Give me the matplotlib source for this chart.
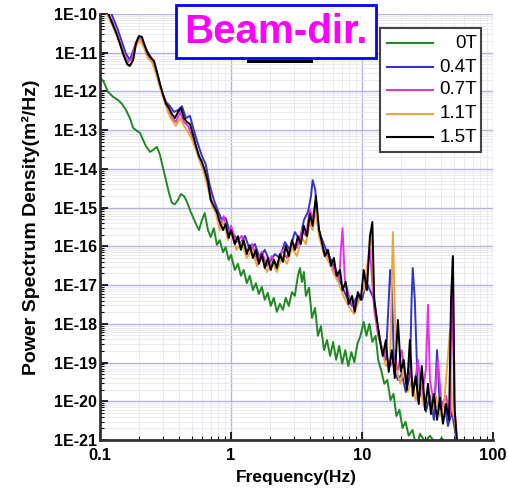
import numpy as np
import matplotlib
matplotlib.use("Agg")
import matplotlib.pyplot as plt
from matplotlib.ticker import LogLocator, FuncFormatter, NullFormatter
from matplotlib.patches import Rectangle
from matplotlib.lines import Line2D

# - - - - data: (frequency Hz, log10 PSD) - - -
spec_0T = [(0.1, -11.63), (0.107, -11.76), (0.115, -12.01), (0.126, -12.14), (0.137, -12.22),
           (0.147, -12.32), (0.158, -12.48), (0.169, -12.69), (0.179, -12.94), (0.192, -13.02),
           (0.202, -13.07), (0.213, -13.25), (0.224, -13.41), (0.241, -13.56), (0.254, -13.51),
           (0.272, -13.43), (0.287, -13.64), (0.303, -13.98), (0.319, -14.29), (0.336, -14.62),
           (0.354, -14.88), (0.373, -14.91), (0.394, -14.80), (0.415, -14.65), (0.438, -14.70),
           (0.461, -14.85), (0.486, -15.06), (0.512, -15.24), (0.54, -15.42), (0.57, -15.58),
           (0.60, -15.32), (0.63, -15.14), (0.667, -15.58), (0.70, -15.76), (0.74, -15.53),
           (0.78, -15.96), (0.82, -15.84), (0.87, -16.15), (0.91, -16.02), (0.96, -16.35),
           (1.0, -16.22), (1.07, -16.61), (1.13, -16.45), (1.19, -16.76), (1.25, -16.61),
           (1.32, -16.95), (1.39, -16.76), (1.47, -17.13), (1.55, -16.95), (1.63, -17.23),
           (1.72, -17.05), (1.81, -17.38), (1.91, -17.20), (2.01, -17.54), (2.12, -17.33),
           (2.24, -17.69), (2.36, -17.48), (2.49, -17.64), (2.62, -17.33), (2.76, -17.54),
           (2.92, -17.18), (3.07, -17.28), (3.24, -16.76), (3.36, -16.56), (3.48, -16.92),
           (3.6, -16.66), (3.73, -17.28), (3.94, -17.07), (4.15, -17.85), (4.38, -17.59),
           (4.61, -18.31), (4.86, -18.06), (5.13, -18.68), (5.41, -18.42), (5.71, -18.83),
           (6.02, -18.47), (6.35, -18.93), (6.69, -18.57), (7.06, -19.03), (7.45, -18.68),
           (7.86, -19.09), (8.29, -18.73), (8.74, -18.99), (9.22, -18.52), (9.73, -18.31),
           (10.3, -17.95), (10.8, -18.31), (11.4, -18.00), (12.0, -18.47), (12.7, -18.31),
           (13.3, -18.93), (14.1, -19.24), (14.8, -19.55), (15.6, -19.45), (16.5, -19.97),
           (17.4, -19.81), (18.3, -20.38), (19.3, -20.22), (20.4, -20.69), (21.5, -20.53),
           (22.7, -20.89), (24.3, -20.74), (26.1, -21.2), (27.7, -20.84), (30.3, -21.05),
           (33.0, -20.89), (36.6, -21.1), (40.6, -20.95), (45.3, -21.15), (50.0, -21.0),
           (54.0, -21.3)]

spec_04T = [(0.1, -9.69), (0.111, -9.85), (0.119, -9.90), (0.128, -10.16), (0.137, -10.41),
            (0.147, -10.72), (0.158, -11.03), (0.169, -11.19), (0.18, -10.93), (0.195, -10.62),
            (0.209, -10.67), (0.227, -10.93), (0.241, -11.08), (0.258, -11.24), (0.277, -11.60),
            (0.297, -12.01), (0.319, -12.27), (0.342, -12.38), (0.367, -12.53), (0.394, -12.48),
            (0.422, -12.38), (0.453, -12.69), (0.486, -12.63), (0.52, -13.00), (0.56, -13.36),
            (0.60, -13.67), (0.64, -13.87), (0.69, -14.44), (0.74, -14.80), (0.79, -15.06),
            (0.85, -15.32), (0.91, -15.27), (0.98, -15.63), (1.07, -15.73), (1.17, -15.94),
            (1.28, -15.73), (1.39, -16.09), (1.52, -15.94), (1.66, -16.30), (1.81, -16.09),
            (1.98, -16.40), (2.16, -16.20), (2.36, -16.30), (2.58, -15.89), (2.81, -16.09),
            (3.07, -15.63), (3.36, -15.84), (3.6, -15.32), (3.87, -15.11), (4.08, -14.70),
            (4.2, -14.29), (4.4, -14.54), (4.6, -15.47), (4.9, -15.78), (5.4, -16.14),
            (5.9, -16.40), (6.4, -16.66), (7.0, -17.02), (7.7, -17.33), (8.4, -17.54),
            (9.2, -17.28), (10.0, -17.38), (10.8, -16.92), (11.5, -17.13), (12.4, -17.38),
            (13.3, -18.16), (14.2, -18.68), (15.2, -18.93), (16.0, -17.38), (16.4, -16.61),
            (16.9, -17.13), (17.6, -19.19), (18.8, -19.45), (20.1, -19.29), (21.6, -19.76),
            (23.2, -19.35), (23.9, -17.38), (24.4, -16.56), (25.3, -17.38), (26.8, -19.97),
            (28.6, -19.71), (30.7, -20.27), (33.0, -19.86), (35.4, -20.48), (37.4, -18.68),
            (39.4, -20.22), (42.3, -19.97), (45.3, -20.64), (48.6, -20.27), (52.0, -20.89),
            (54.0, -21.5)]

spec_07T = [(0.1, -9.74), (0.111, -9.90), (0.123, -10.16), (0.137, -10.57), (0.152, -11.03),
            (0.164, -11.24), (0.176, -11.14), (0.188, -10.72), (0.202, -10.62), (0.217, -10.83),
            (0.232, -11.08), (0.249, -11.14), (0.268, -11.45), (0.287, -11.86), (0.308, -12.17),
            (0.33, -12.43), (0.354, -12.69), (0.38, -12.79), (0.408, -12.53), (0.438, -12.79),
            (0.47, -12.89), (0.505, -13.15), (0.54, -13.41), (0.58, -13.77), (0.62, -13.98),
            (0.667, -14.39), (0.72, -14.91), (0.77, -15.06), (0.82, -15.47), (0.88, -15.22),
            (0.95, -15.73), (1.0, -15.47), (1.10, -15.89), (1.21, -15.73), (1.32, -16.14),
            (1.45, -15.94), (1.58, -16.35), (1.72, -16.14), (1.88, -16.51), (2.05, -16.25),
            (2.24, -16.51), (2.45, -16.09), (2.67, -16.30), (2.92, -15.89), (3.18, -16.04),
            (3.48, -15.58), (3.73, -15.73), (4.0, -15.06), (4.2, -15.27), (4.45, -14.80),
            (4.7, -15.63), (5.1, -16.09), (5.6, -16.30), (6.1, -16.61), (6.7, -16.87),
            (6.9, -16.09), (7.1, -15.53), (7.4, -16.87), (8.1, -17.38), (8.8, -17.64),
            (9.7, -17.28), (10.5, -17.02), (11.5, -16.09), (12.4, -17.64), (13.3, -18.31),
            (14.2, -18.62), (15.2, -18.83), (16.4, -19.09), (17.6, -18.93), (18.8, -19.19),
            (20.1, -18.68), (21.6, -19.45), (23.2, -19.09), (24.8, -19.71), (26.8, -18.93),
            (28.6, -19.86), (30.7, -19.19), (31.9, -17.51), (33.0, -19.45), (35.4, -20.07),
            (38.0, -18.93), (40.6, -20.17), (43.8, -19.86), (47.0, -20.38), (48.6, -17.9),
            (49.4, -16.3), (50.4, -19.97), (53.0, -21.0), (55.0, -21.8)]

spec_11T = [(0.1, -9.79), (0.111, -9.95), (0.123, -10.26), (0.137, -10.62), (0.152, -11.08),
            (0.164, -11.34), (0.176, -11.24), (0.188, -10.83), (0.202, -10.67), (0.217, -10.88),
            (0.232, -11.14), (0.249, -11.24), (0.268, -11.55), (0.287, -11.91), (0.308, -12.22),
            (0.33, -12.53), (0.354, -12.74), (0.38, -12.89), (0.408, -12.69), (0.438, -12.89),
            (0.47, -13.05), (0.505, -13.25), (0.54, -13.51), (0.58, -13.82), (0.62, -14.08),
            (0.667, -14.49), (0.72, -14.96), (0.77, -15.16), (0.82, -15.58), (0.88, -15.37),
            (0.95, -15.84), (1.0, -15.63), (1.10, -16.09), (1.21, -15.89), (1.32, -16.30),
            (1.45, -16.09), (1.58, -16.51), (1.72, -16.30), (1.88, -16.66), (2.05, -16.40),
            (2.24, -16.66), (2.45, -16.25), (2.67, -16.45), (2.92, -16.04), (3.18, -16.25),
            (3.48, -15.78), (3.73, -15.94), (4.0, -15.37), (4.2, -15.58), (4.45, -15.06),
            (4.7, -15.73), (5.1, -16.20), (5.6, -16.40), (6.1, -16.71), (6.7, -16.97),
            (7.2, -17.28), (7.9, -17.54), (8.7, -17.75), (9.5, -17.38), (10.3, -17.13),
            (11.1, -16.35), (11.7, -15.58), (12.4, -17.38), (13.3, -18.16), (14.2, -18.68),
            (15.2, -19.09), (16.4, -18.93), (17.2, -15.63), (18.3, -19.19), (19.6, -19.55),
            (20.8, -19.19), (22.4, -19.76), (23.9, -19.45), (25.7, -19.97), (27.7, -19.55),
            (29.6, -20.12), (31.9, -19.71), (34.2, -20.27), (36.6, -19.86), (39.4, -20.38),
            (42.3, -20.07), (47.0, -18.16), (48.6, -20.22), (51.0, -20.48), (54.0, -21.26)]

spec_15T = [(0.1, -9.77), (0.107, -9.85), (0.115, -9.97), (0.123, -10.21), (0.132, -10.46),
            (0.142, -10.77), (0.152, -11.08), (0.161, -11.29), (0.169, -11.34), (0.179, -11.19),
            (0.188, -10.77), (0.198, -10.57), (0.209, -10.59), (0.22, -10.83), (0.232, -11.03),
            (0.245, -11.14), (0.258, -11.21), (0.272, -11.50), (0.287, -11.81), (0.303, -12.09),
            (0.319, -12.32), (0.336, -12.43), (0.354, -12.58), (0.373, -12.69), (0.394, -12.53),
            (0.415, -12.43), (0.438, -12.69), (0.461, -12.79), (0.486, -12.84), (0.512, -13.10),
            (0.54, -13.41), (0.57, -13.67), (0.60, -13.82), (0.63, -14.03), (0.667, -14.34),
            (0.70, -14.80), (0.74, -14.96), (0.78, -15.11), (0.82, -15.37), (0.87, -15.58),
            (0.91, -15.42), (0.96, -15.78), (1.0, -15.58), (1.07, -15.94), (1.13, -15.74),
            (1.19, -16.09), (1.25, -15.84), (1.32, -16.20), (1.39, -15.97), (1.47, -16.30),
            (1.55, -16.09), (1.63, -16.45), (1.72, -16.20), (1.81, -16.56), (1.91, -16.30),
            (2.01, -16.61), (2.12, -16.35), (2.24, -16.56), (2.36, -16.20), (2.49, -16.40),
            (2.62, -15.99), (2.76, -16.25), (2.92, -15.84), (3.07, -16.09), (3.24, -15.74),
            (3.41, -15.94), (3.6, -15.47), (3.8, -15.73), (4.0, -15.16), (4.2, -15.47),
            (4.45, -14.70), (4.7, -15.58), (4.9, -15.84), (5.2, -16.25), (5.5, -16.09),
            (5.8, -16.50), (6.1, -16.30), (6.4, -16.76), (6.8, -16.61), (7.1, -17.13),
            (7.5, -16.92), (7.9, -17.49), (8.4, -17.28), (8.8, -17.69), (9.3, -17.18),
            (9.8, -17.38), (10.3, -16.61), (10.9, -17.13), (11.5, -15.74), (12.0, -15.37),
            (12.4, -17.38), (13.0, -17.90), (13.7, -18.42), (14.4, -18.83), (15.2, -18.42),
            (16.0, -19.24), (16.9, -18.68), (17.8, -19.40), (18.8, -17.90), (19.8, -19.24),
            (20.8, -18.93), (22.0, -19.71), (23.2, -18.42), (24.4, -19.86), (25.7, -19.35),
            (27.1, -20.07), (28.6, -19.09), (30.3, -20.22), (31.9, -19.55), (33.6, -20.33),
            (35.4, -19.81), (37.4, -20.48), (39.4, -19.91), (41.5, -20.58), (43.8, -20.07),
            (46.2, -20.48), (47.8, -17.38), (49.4, -16.25), (51.0, -20.22), (53.0, -21.0),
            (54.0, -21.8)]

labels = ["0T", "0.4T", "0.7T", "1.1T", "1.5T"]
colors = ["#1f8a1f", "#3434c8", "#e433e4", "#f0a438", "#000000"]

W, H = 508, 493


def fx(px):
    return px / W


def fy(py):
    return 1 - py / H


def main():
    plt.rcParams['font.family'] = ['Liberation Sans', 'DejaVu Sans']
    fig = plt.figure(figsize=(W / 100, H / 100), dpi=100)
    ax = fig.add_axes([fx(100), fy(440), fx(493) - fx(100), fy(14) - fy(440)])

    for spec, col in zip([spec_0T, spec_04T, spec_07T, spec_11T, spec_15T], colors):
        f = np.array([p[0] for p in spec])
        lg = np.array([p[1] for p in spec])
        ax.plot(f, 10.0 ** lg, color=col, lw=1.4)

    ax.set_xscale('log')
    ax.set_yscale('log')
    ax.set_xlim(0.1, 100)
    ax.set_ylim(1e-21, 1e-10)

    ax.yaxis.set_major_locator(LogLocator(base=10, numticks=30))
    ax.yaxis.set_minor_locator(LogLocator(base=10, subs=np.arange(2, 10), numticks=300))
    ax.yaxis.set_major_formatter(FuncFormatter(lambda v, p: "1E%d" % round(np.log10(v))))
    ax.yaxis.set_minor_formatter(NullFormatter())
    ax.xaxis.set_major_locator(LogLocator(base=10, numticks=10))
    ax.xaxis.set_minor_locator(LogLocator(base=10, subs=np.arange(2, 10), numticks=100))
    ax.xaxis.set_major_formatter(FuncFormatter(lambda v, p: "%g" % v))
    ax.xaxis.set_minor_formatter(NullFormatter())

    ax.grid(which='major', color='#b4b4e4', lw=1.0)
    ax.grid(which='minor', color='#e6e6ee', lw=0.6)
    ax.set_axisbelow(True)

    for s in ['top', 'right']:
        ax.spines[s].set_visible(False)
    for s in ['left', 'bottom']:
        ax.spines[s].set_linewidth(2)
        ax.spines[s].set_color('#333333')

    ax.tick_params(which='major', direction='in', length=6, width=1.2)
    ax.tick_params(which='minor', direction='in', length=3, width=0.8)
    ax.tick_params(axis='y', labelsize=11.5, pad=2)
    ax.tick_params(axis='x', labelsize=12, pad=6)
    for t in ax.get_xticklabels() + ax.get_yticklabels():
        t.set_fontweight('bold')

    ax.set_xlabel("Frequency(Hz)", fontsize=12.5, fontweight='bold', labelpad=5)
    ax.set_ylabel("Power Spectrum Density(m\u00b2/Hz)", fontsize=14, fontweight='bold',
                  labelpad=10)

    # legend drawn by hand so labels sit right-aligned
    fig.add_artist(Rectangle((fx(380), fy(152)), fx(481) - fx(380), fy(28) - fy(152),
                             transform=fig.transFigure, facecolor='white',
                             edgecolor='#444444', lw=1.5, zorder=5))
    rows = [43, 67, 90, 114, 137]
    for lab, col, ry in zip(labels, colors, rows):
        fig.add_artist(Line2D([fx(387), fx(433)], [fy(ry), fy(ry)], color=col, lw=1.5,
                              transform=fig.transFigure, zorder=6))
        fig.text(fx(477), fy(ry), lab, ha='right', va='center', fontsize=13.5, zorder=6)

    # title box
    fig.add_artist(Rectangle((fx(247), fy(63)), fx(313) - fx(247), fy(60) - fy(63),
                             transform=fig.transFigure, facecolor='black', lw=0, zorder=4))
    fig.add_artist(Rectangle((fx(176), fy(58)), fx(376) - fx(176), fy(5) - fy(58),
                             transform=fig.transFigure, facecolor='white',
                             edgecolor='#0000ff', lw=2, zorder=5))
    fig.text(fx(276), fy(32), "Beam-dir.", ha='center', va='center', fontsize=29,
             fontweight='bold', color='#ff00ff', zorder=6)

    fig.savefig("out.png", dpi=100)


if __name__ == '__main__':
    main()
